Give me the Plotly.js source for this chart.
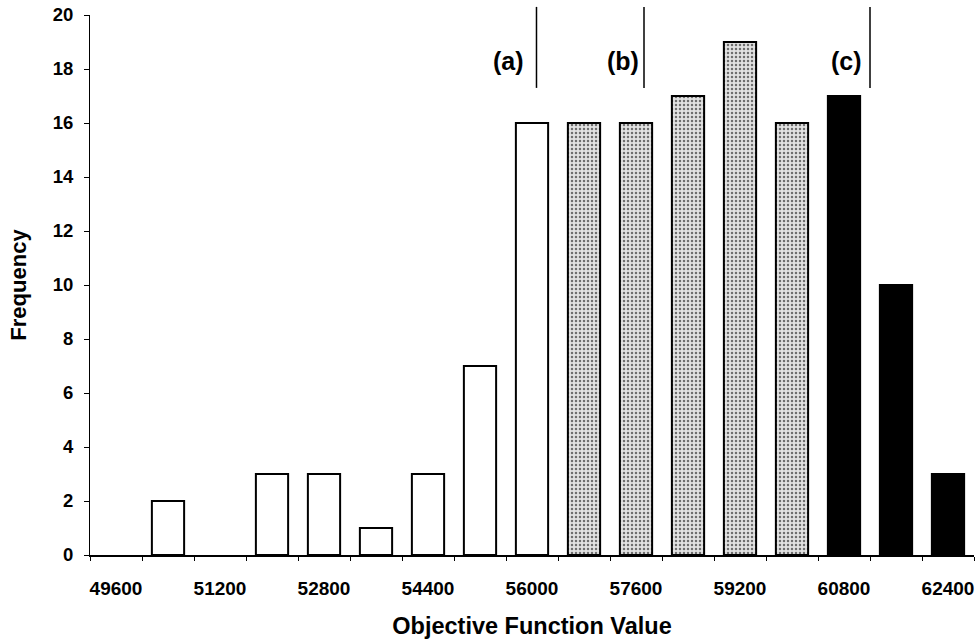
<!DOCTYPE html>
<html>
<head>
<meta charset="utf-8">
<script src="https://cdn.plot.ly/plotly-3.0.1.min.js"></script>
<style>
  html, body { margin: 0; padding: 0; background: #fff; }
  #chart { width: 978px; height: 644px; }
</style>
</head>
<body>
<div id="chart"></div>
<script>
// Histogram bins (objective function value) and frequencies
const bins = [49600, 50400, 51200, 52000, 52800, 53600, 54400, 55200, 56000,
              56800, 57600, 58400, 59200, 60000, 60800, 61600, 62400];
const freq = [0, 2, 0, 3, 3, 1, 3, 7, 16, 16, 16, 17, 19, 16, 17, 10, 3];
const tickLabels = [49600, 51200, 52800, 54400, 56000, 57600, 59200, 60800, 62400];
const yTicks = [0, 2, 4, 6, 8, 10, 12, 14, 16, 18, 20];

// groups of bins: below (a), between (a)-(c), above (c)
function pick(cond) {
  const x = [], y = [];
  bins.forEach((b, i) => { if (cond(b)) { x.push(b); y.push(freq[i]); } });
  return {x, y};
}
const low = pick(b => b <= 56000);
const mid = pick(b => b > 56000 && b < 60800);
const high = pick(b => b >= 60800);
const outline = ys => ({color: '#000', width: ys.map(v => v > 0 ? 2 : 0)});

const traces = [
  {type: 'bar', x: low.x, y: low.y, marker: {color: '#ffffff', line: outline(low.y)}, hoverinfo: 'x+y'},
  {type: 'bar', x: mid.x, y: mid.y, marker: {color: '#dcdcdc', line: outline(mid.y),
     pattern: {shape: '.', fgcolor: '#6e6e6e', bgcolor: '#e2e2e2', size: 4, solidity: 0.3}}, hoverinfo: 'x+y'},
  {type: 'bar', x: high.x, y: high.y, marker: {color: '#000000', line: outline(high.y)}, hoverinfo: 'x+y'}
];

const F = 'Liberation Sans, Arial, sans-serif';
const layout = {
  width: 978, height: 644,
  margin: {l: 90, r: 4, t: 15, b: 89},
  paper_bgcolor: '#fff', plot_bgcolor: '#fff',
  showlegend: false,
  barmode: 'overlay',
  bargap: 0.38,
  font: {family: F, color: '#000'},
  xaxis: {
    type: 'linear',
    range: [49200, 62800],
    tickmode: 'array', tickvals: tickLabels, ticktext: tickLabels.map(String),
    ticks: '', showgrid: false, zeroline: false,
    showline: true, linecolor: '#000', linewidth: 1.5,
    ticklabelstandoff: 16,
    tickfont: {family: F, size: 19, color: '#000', weight: 'bold'},
    minor: {tick0: 49200, dtick: 800, ticks: 'outside', ticklen: 4, tickcolor: '#000', tickwidth: 1, showgrid: false},
    title: {text: '<b>Objective Function Value</b>', font: {family: F, size: 23.5, color: '#000'}, standoff: 19}
  },
  yaxis: {
    range: [0, 20],
    tickmode: 'array', tickvals: yTicks,
    ticks: 'outside', ticklen: 5, tickcolor: '#000', tickwidth: 1,
    showgrid: false, zeroline: false,
    showline: true, linecolor: '#000', linewidth: 1,
    ticklabelstandoff: 7,
    tickfont: {family: F, size: 18.5, color: '#000', weight: 'bold'},
    title: {text: '<b>Frequency</b>', font: {family: F, size: 22, color: '#000'}, standoff: 20}
  },
  shapes: [
    {type: 'line', xref: 'x', yref: 'paper', x0: 56069, x1: 56069, y0: 0.865, y1: 1.015, line: {color: '#000', width: 1.5}},
    {type: 'line', xref: 'x', yref: 'paper', x0: 57723, x1: 57723, y0: 0.865, y1: 1.015, line: {color: '#000', width: 1.5}},
    {type: 'line', xref: 'x', yref: 'paper', x0: 61200, x1: 61200, y0: 0.865, y1: 1.015, line: {color: '#000', width: 1.5}}
  ],
  annotations: [
    {text: '<b>(a)</b>', xref: 'x', yref: 'paper', x: 55646, y: 0.944, showarrow: false, font: {family: F, size: 25, color: '#000'}},
    {text: '<b>(b)</b>', xref: 'x', yref: 'paper', x: 57400, y: 0.944, showarrow: false, font: {family: F, size: 25, color: '#000'}},
    {text: '<b>(c)</b>', xref: 'x', yref: 'paper', x: 60831, y: 0.944, showarrow: false, font: {family: F, size: 25, color: '#000'}}
  ]
};

Plotly.newPlot('chart', traces, layout, {displayModeBar: false, staticPlot: true});
</script>
</body>
</html>
